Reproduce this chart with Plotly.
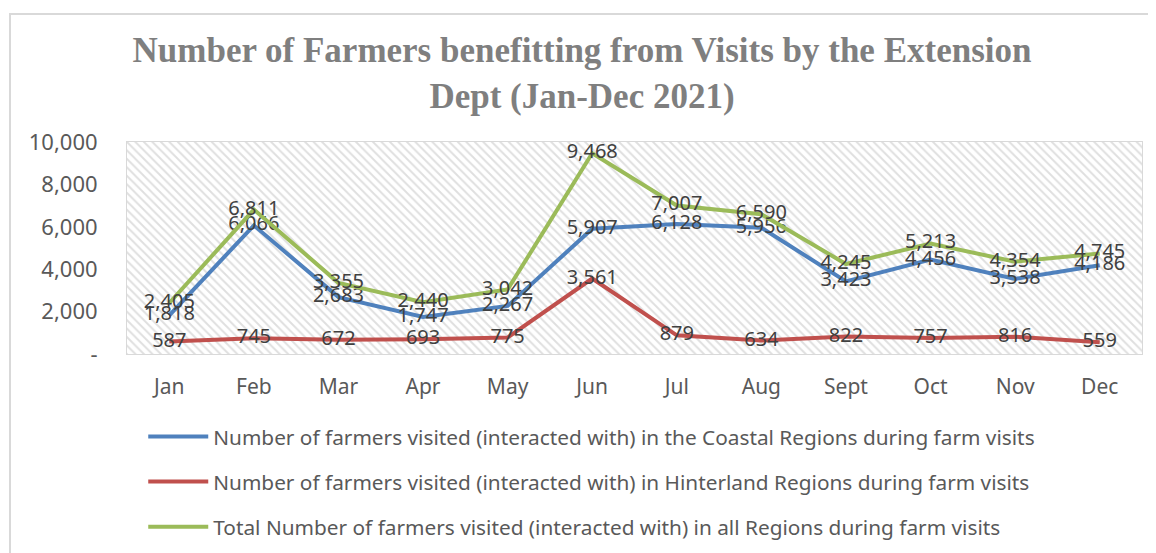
import plotly.graph_objects as go

months = ["Jan", "Feb", "Mar", "Apr", "May", "Jun", "Jul", "Aug", "Sept", "Oct", "Nov", "Dec"]
coastal = [1818, 6066, 2683, 1747, 2267, 5907, 6128, 5956, 3423, 4456, 3538, 4186]
hinterland = [587, 745, 672, 693, 775, 3561, 879, 634, 822, 757, 816, 559]
total = [2405, 6811, 3355, 2440, 3042, 9468, 7007, 6590, 4245, 5213, 4354, 4745]

names = [
    "Number of farmers visited (interacted with) in the Coastal Regions during farm visits",
    "Number of farmers visited (interacted with) in Hinterland Regions during farm visits",
    "Total Number of farmers visited (interacted with) in all Regions during farm visits",
]
colors = ["#4F81BD", "#C0504D", "#9BBB59"]
y_ticks = [0, 2000, 4000, 6000, 8000, 10000]
y_ticktext = ["-" if v == 0 else f"{v:,}" for v in y_ticks]

FONT = "Noto Sans"
xs = list(range(len(months)))

W, H = 1148, 545  # page has 8px body margin

fig = go.Figure()

# hatched plot-area background on a hidden unit axis
fig.add_trace(go.Scatter(
    x=[0, 1, 1, 0, 0], y=[0, 0, 1, 1, 0], xaxis="x", yaxis="y",
    mode="lines", line=dict(width=0), fill="toself", fillcolor="rgba(255,255,255,0)",
    fillpattern=dict(shape="\\", fgcolor="#c0c0c0", bgcolor="white", size=6, solidity=0.32),
    hoverinfo="skip", showlegend=False,
))

for i, (vals, name, col) in enumerate(zip([coastal, hinterland, total], names, colors)):
    fig.add_trace(go.Scatter(
        x=xs, y=vals, xaxis="x2", yaxis="y2", name=name,
        mode="lines+text", line=dict(color=col, width=4),
        text=[f"{v:,}" for v in vals], textposition="middle center",
        textfont=dict(family=FONT, size=20, color="#404040"),
        legendgroup=f"g{i}", cliponaxis=False,
    ))

fig.update_layout(
    width=W, height=H,
    margin=dict(l=119, r=14, t=134, b=199, autoexpand=False),
    paper_bgcolor="white", plot_bgcolor="white",
    title=dict(
        text="<b>Number of Farmers benefitting from Visits by the Extension<br>Dept (Jan-Dec 2021)</b>",
        font=dict(family="Liberation Serif", size=35, color="#7f7f7f"),
        x=0.5, xanchor="center", xref="container", y=1 - 54 / H, yanchor="top", yref="container",
    ),
    xaxis=dict(range=[0, 1], visible=False, fixedrange=True),
    yaxis=dict(range=[0, 1], visible=False, fixedrange=True),
    xaxis2=dict(
        overlaying="x", range=[-0.5, len(months) - 0.5],
        tickmode="array", tickvals=xs, ticktext=months, ticks="",
        tickfont=dict(family=FONT, size=21, color="#595959"),
        showgrid=True, gridcolor="#d9d9d9", gridwidth=1,
        minor=dict(dtick=1, tick0=0.5, showgrid=True, gridcolor="#d9d9d9", gridwidth=1, ticks=""),
        showline=True, linecolor="#d9d9d9", mirror=True, zeroline=False,
        anchor="y2", ticklabelstandoff=14, automargin=False,
    ),
    yaxis2=dict(
        overlaying="y", range=[0, 10000],
        tickmode="array", tickvals=y_ticks, ticktext=y_ticktext, ticks="",
        tickfont=dict(family=FONT, size=22, color="#595959"),
        showgrid=True, gridcolor="#d9d9d9", gridwidth=1,
        showline=True, linecolor="#d9d9d9", mirror=True, zeroline=False,
        anchor="x2", ticklabelstandoff=24, automargin=False,
    ),
    legend=dict(
        x=0.016, xanchor="left", y=-0.295, yanchor="top",
        font=dict(family=FONT, size=20.8, color="#595959"),
        tracegroupgap=15, itemwidth=60,
    ),
    shapes=[dict(type="rect", xref="paper", yref="paper",
                 x0=-117 / 1015, x1=1.2, y0=-1.5, y1=(354 - 14) / 212,
                 line=dict(color="#d9d9d9", width=2), fillcolor="rgba(0,0,0,0)", layer="below")],
)

fig.write_html("out.html")
